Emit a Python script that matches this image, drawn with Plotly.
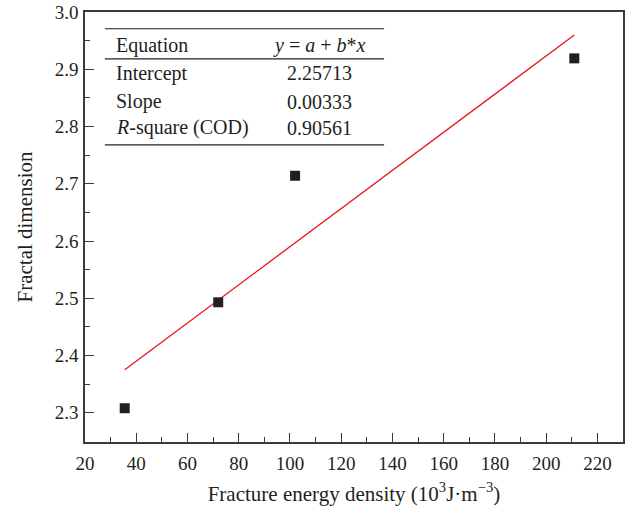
import plotly.graph_objects as go

energy = [35.5, 72.0, 102.0, 211.0]
fractal = [2.308, 2.493, 2.714, 2.919]
intercept = 2.25713
slope = 0.00333
r_square = 0.90561
fit_x = [35.5, 211.0]
fit_y = [intercept + slope * v for v in fit_x]

table_labels = ["Equation", "Intercept", "Slope", "<i>R</i>-square (COD)"]
table_values = ["<i>y</i> = <i>a</i> + <i>b</i>*<i>x</i>", f"{intercept:.5f}", f"{slope:.5f}", f"{r_square:.5f}"]

FONT = "Liberation Serif"
AX = "#3a3a3a"
TXT = "#231f20"

fig = go.Figure()
fig.add_trace(go.Scatter(x=fit_x, y=fit_y, mode="lines",
                         line=dict(color="#e8161b", width=1.3), showlegend=False))
fig.add_trace(go.Scatter(x=energy, y=fractal, mode="markers",
                         marker=dict(symbol="square", size=10, color=TXT), showlegend=False))

axis_common = dict(showgrid=False, zeroline=False, showline=True, linecolor=AX, linewidth=1.5,
                   mirror=True, ticks="inside", tickcolor=AX, tickwidth=1.3, ticklen=9,
                   ticklabeloverflow="allow",
                   tickfont=dict(family=FONT, size=19, color=TXT))
fig.update_xaxes(range=[20, 230], dtick=20, tick0=20, ticklabelstandoff=3,
                 minor=dict(ticks="inside", dtick=10, ticklen=5, tickcolor=AX, tickwidth=1.3),
                 title=dict(text="Fracture energy density (10<sup>3</sup>J·m<sup>−3</sup>)",
                            font=dict(family=FONT, size=21, color=TXT), standoff=14),
                 **axis_common)
fig.update_yaxes(range=[2.249, 3.0], dtick=0.1, tick0=2.3, tickformat=".1f", ticklabelstandoff=1,
                 minor=dict(ticks="inside", dtick=0.05, ticklen=5, tickcolor=AX, tickwidth=1.3),
                 title=dict(text="Fractal dimension", font=dict(family=FONT, size=21, color=TXT),
                            standoff=16),
                 **axis_common)

x0, x1 = 0.037, 0.556
for yy in [0.961, 0.891, 0.691]:
    fig.add_shape(type="line", xref="paper", yref="paper", x0=x0, x1=x1, y0=yy, y1=yy,
                  line=dict(color=TXT, width=1.2))
row_y = [0.923, 0.858, 0.791, 0.731]
for lab, val, yy in zip(table_labels, table_values, row_y):
    fig.add_annotation(xref="paper", yref="paper", x=0.054, y=yy, text=lab, showarrow=False,
                       xanchor="left", yanchor="middle", font=dict(family=FONT, size=20, color=TXT))
    fig.add_annotation(xref="paper", yref="paper", x=0.435, y=yy, text=val, showarrow=False,
                       xanchor="center", yanchor="middle", font=dict(family=FONT, size=20, color=TXT))

fig.update_layout(width=631, height=518, margin=dict(l=85, r=8, t=12, b=76, autoexpand=False),
                  paper_bgcolor="white", plot_bgcolor="white")
fig.write_html("out.html", config={"displayModeBar": False},
               post_script="document.body.style.margin='0';")
